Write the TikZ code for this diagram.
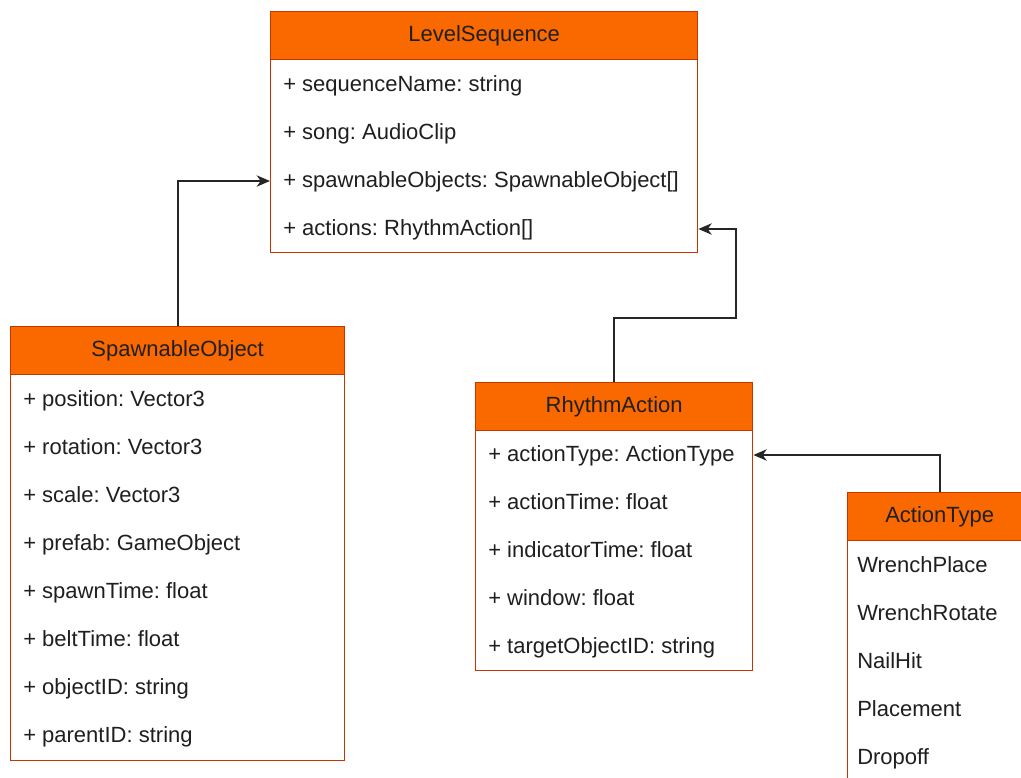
\documentclass[tikz,border=0pt]{standalone}
\usepackage{fontspec}
\setmainfont{Liberation Sans}
\frenchspacing
\usetikzlibrary{positioning,arrows.meta}
\definecolor{hdrfill}{HTML}{FA6800}
\definecolor{hdrline}{HTML}{C73500}
\colorlet{txtcol}{black!88}
\colorlet{linkcol}{black!85}

\begin{document}
\begin{tikzpicture}[x=0.75pt,y=-0.75pt,
  every node/.style={font=\fontsize{16.5}{19}\selectfont,text=txtcol},
  hdr/.style={draw=hdrline,fill=hdrfill,line width=1pt,minimum height=36pt,inner sep=0pt,anchor=north west},
  bodybox/.style={draw=hdrline,fill=white,line width=1pt,inner sep=0pt,anchor=north west},
  attr/.style={anchor=base west,inner sep=0pt,text height=12pt,text depth=3pt},
  link/.style={-{Stealth[length=10pt,width=8.5pt,inset=3pt]},line width=1.3pt,draw=linkcol}]
  \useasboundingbox (0,0) rectangle (1021,778);
  \clip (0,0) rectangle (1021,778);
  % LevelSequence
  \node[bodybox,minimum width=320.25pt,minimum height=144.75pt] (lvlbody) at (270,59) {};
  \node[hdr,minimum width=320.25pt] (lvl) at (270,11) {LevelSequence};
  \foreach \t [count=\i] in {{+ sequenceName: string},{+ song: AudioClip},
      {+ spawnableObjects: SpawnableObject[]},{+ actions: RhythmAction[]}}
    \node[attr] (lvl\i) at (283,{43+48*\i}) {\t};
  % SpawnableObject
  \node[bodybox,minimum width=250.5pt,minimum height=289.5pt] (spnbody) at (10,374) {};
  \node[hdr,minimum width=250.5pt] (spn) at (10,326) {SpawnableObject};
  \foreach \t [count=\i] in {{+ position: Vector3},{+ rotation: Vector3},{+ scale: Vector3},
      {+ prefab: GameObject},{+ spawnTime: float},{+ beltTime: float},
      {+ objectID: string},{+ parentID: string}}
    \node[attr] (spn\i) at (23,{358+48*\i}) {\t};
  % RhythmAction
  \node[bodybox,minimum width=207.75pt,minimum height=180pt] (rhabody) at (475,430) {};
  \node[hdr,minimum width=207.75pt] (rha) at (475,382) {RhythmAction};
  \foreach \t [count=\i] in {{+ actionType: ActionType},{+ actionTime: float},
      {+ indicatorTime: float},{+ window: float},{+ targetObjectID: string}}
    \node[attr] (rha\i) at (488,{413+48*\i}) {\t};
  % ActionType (runs past the edge)
  \node[bodybox,minimum width=138pt,minimum height=195pt] (actbody) at (847,540) {};
  \node[hdr,minimum width=138pt] (act) at (847,492) {ActionType};
  \foreach \t [count=\i] in {WrenchPlace,WrenchRotate,NailHit,Placement,Dropoff}
    \node[attr] (act\i) at (857,{524+48*\i}) {\t};
  % links
  \coordinate (bend) at (736,318);
  \draw[link] (spn.north) |- (lvlbody.west |- lvl3);
  \draw[link] (rha.north) |- (bend) |- (lvlbody.east |- lvl4);
  \draw[link] (act.north) |- (rhabody.east |- rha1);
\end{tikzpicture}
\end{document}
